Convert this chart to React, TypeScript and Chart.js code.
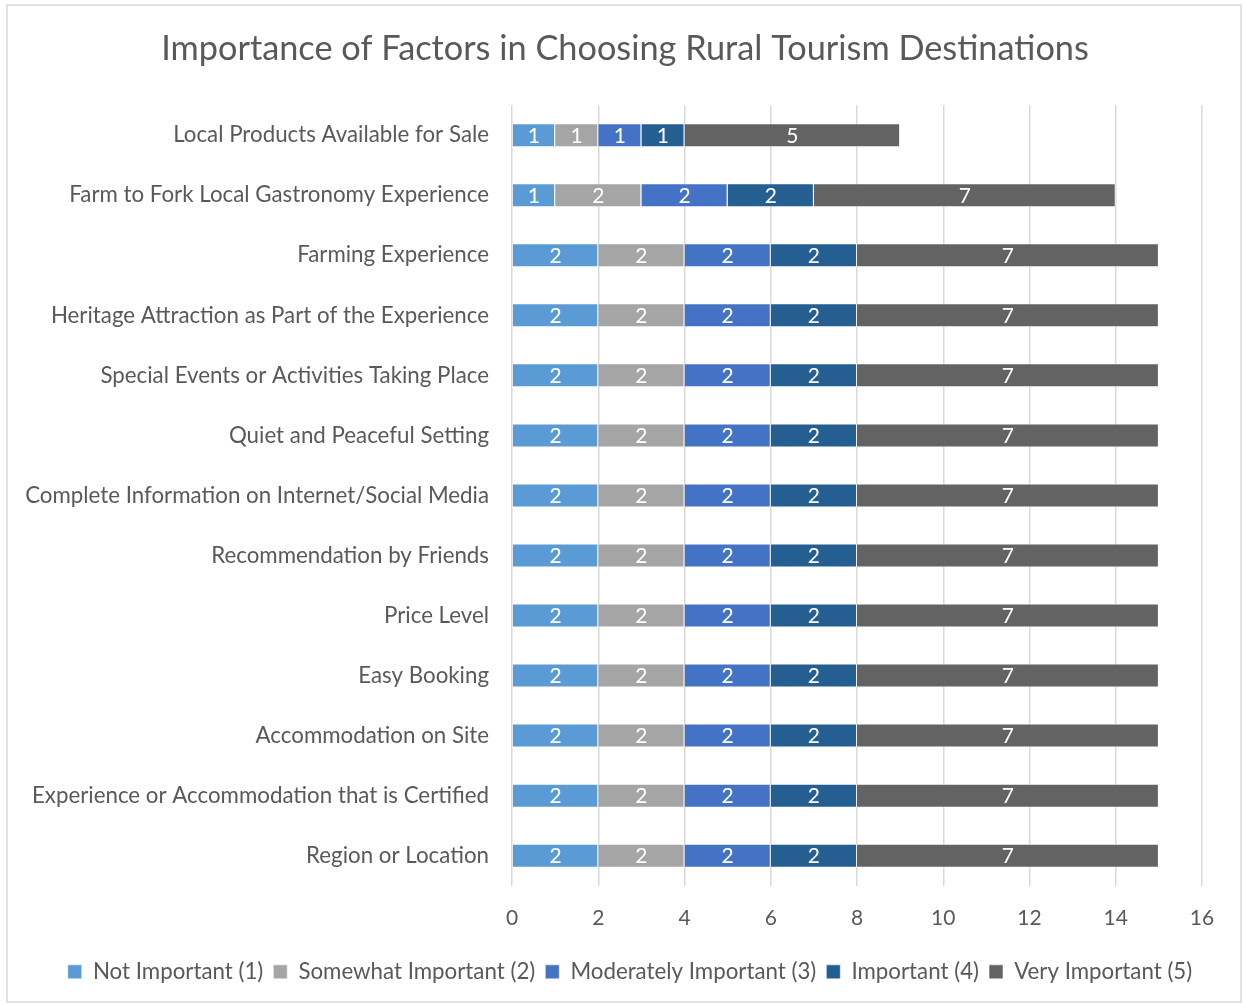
import React, { useEffect, useRef } from "react";
import { Chart, registerables } from "chart.js";

Chart.register(...registerables);

const categories = [
  "Local Products Available for Sale",
  "Farm to Fork Local Gastronomy Experience",
  "Farming Experience",
  "Heritage Attraction as Part of the Experience",
  "Special Events or Activities Taking Place",
  "Quiet and Peaceful Setting",
  "Complete Information on Internet/Social Media",
  "Recommendation by Friends",
  "Price Level",
  "Easy Booking",
  "Accommodation on Site",
  "Experience or Accommodation that is Certified",
  "Region or Location",
];

const seriesNames = [
  "Not Important (1)",
  "Somewhat Important (2)",
  "Moderately Important (3)",
  "Important (4)",
  "Very Important (5)",
];

const notImportant = [1, 1, 2, 2, 2, 2, 2, 2, 2, 2, 2, 2, 2];
const somewhatImportant = [1, 2, 2, 2, 2, 2, 2, 2, 2, 2, 2, 2, 2];
const moderatelyImportant = [1, 2, 2, 2, 2, 2, 2, 2, 2, 2, 2, 2, 2];
const important = [1, 2, 2, 2, 2, 2, 2, 2, 2, 2, 2, 2, 2];
const veryImportant = [5, 7, 7, 7, 7, 7, 7, 7, 7, 7, 7, 7, 7];

const seriesColors = ["#5B9BD5", "#A5A5A5", "#4472C4", "#255E91", "#636363"];

const xMin = 0;
const xMax = 16;
const xStep = 2;

const FONT = "Lato, 'Open Sans', sans-serif";
const TEXT = "#595959";

const frameAndLabels = {
  id: "frameAndLabels",
  afterLayout(chart: any) {
    if (chart.titleBlock) {
      chart.titleBlock.left = 6;
      chart.titleBlock.right = 1244;
    }
    if (chart.legend) {
      chart.legend.left = 20;
      chart.legend.right = 1240;
    }
  },
  beforeDraw(chart: any) {
    const ctx = chart.ctx;
    ctx.save();
    ctx.fillStyle = "#ffffff";
    ctx.fillRect(0, 0, chart.width, chart.height);
    ctx.strokeStyle = "#D9D9D9";
    ctx.lineWidth = 1.5;
    ctx.strokeRect(7, 5, 1234, 997);
    ctx.restore();
  },
  afterDatasetsDraw(chart: any) {
    const ctx = chart.ctx;
    ctx.save();
    ctx.fillStyle = "#ffffff";
    ctx.font = `21px ${FONT}`;
    ctx.textAlign = "center";
    ctx.textBaseline = "middle";
    chart.data.datasets.forEach((ds: any, i: number) => {
      const meta = chart.getDatasetMeta(i);
      meta.data.forEach((bar: any, j: number) => {
        const v = ds.data[j];
        if (!v) return;
        const p = bar.getProps(["x", "y", "base"], true);
        ctx.fillText(String(v), (p.x + p.base) / 2, p.y + 1);
      });
    });
    ctx.restore();
  },
};

export default function App() {
  const ref = useRef<HTMLCanvasElement | null>(null);
  useEffect(() => {
    if (!ref.current) return;
    const values = [notImportant, somewhatImportant, moderatelyImportant, important, veryImportant];
    const chart = new Chart(ref.current, {
      type: "bar",
      data: {
        labels: categories,
        datasets: values.map((d, i) => ({
          label: seriesNames[i],
          data: d,
          backgroundColor: seriesColors[i],
          borderColor: "rgba(255,255,255,0.55)",
          borderWidth: 1,
          barPercentage: 0.4,
          categoryPercentage: 1,
        })),
      },
      options: {
        indexAxis: "y",
        responsive: false,
        animation: false,
        layout: { padding: { left: 0, right: 42, top: 5, bottom: 11 } },
        scales: {
          x: {
            stacked: true,
            min: xMin,
            max: xMax,
            ticks: { stepSize: xStep, color: TEXT, font: { family: FONT, size: 21 }, padding: 20 },
            grid: { color: "#D9D9D9", lineWidth: 1.5, drawTicks: false },
            border: { display: false },
            afterFit: (s: any) => { s.height = 65; },
          },
          y: {
            stacked: true,
            ticks: { color: TEXT, font: { family: FONT, size: 22.3 }, padding: 15 },
            grid: { display: false },
            border: { display: false },
            afterFit: (s: any) => { s.width = 512; },
          },
        },
        plugins: {
          title: {
            display: true,
            text: "Importance of Factors in Choosing Rural Tourism Destinations",
            color: TEXT,
            font: { family: FONT, size: 34.3, weight: "normal" },
            padding: { top: 23, bottom: 36 },
          },
          legend: {
            position: "bottom",
            labels: {
              color: TEXT,
              font: { family: FONT, size: 22.3 },
              boxWidth: 14,
              boxHeight: 14,
              padding: 10,
            },
          },
          tooltip: { enabled: false },
        },
      },
      plugins: [frameAndLabels],
    } as any);
    return () => chart.destroy();
  }, []);
  return (
    <div style={{ position: "absolute", left: 0, top: 0, width: 1244, height: 1004 }}>
      <canvas ref={ref} width={1244} height={1004} style={{ width: 1244, height: 1004, display: "block" }} />
    </div>
  );
}
